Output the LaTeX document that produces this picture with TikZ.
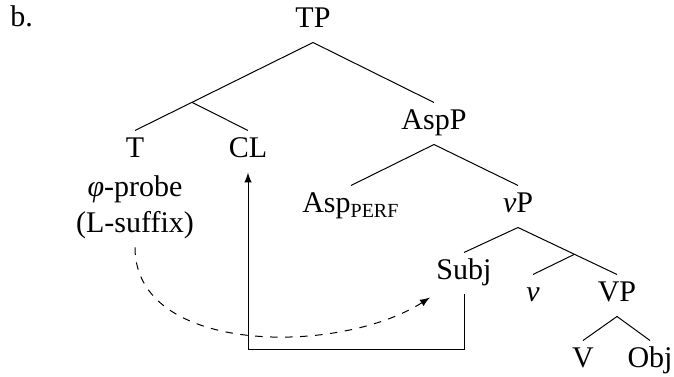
\documentclass[tikz,border=0pt]{standalone}
\usepackage{fontspec}
\setmainfont{Liberation Serif}
\usetikzlibrary{calc}
\tikzset{>=latex}
\tikzset{lab/.style={inner sep=0pt, text height=10.8pt, text depth=5.6pt, anchor=base, font=\fontsize{12pt}{14.4pt}\selectfont}}

\begin{document}
\begin{tikzpicture}[x=0.4pt, y=-0.4pt]
		\useasboundingbox (0,0) rectangle (674,377);
		\node[lab, anchor=base west] (ex) at (10,27) {b.};
		\node[lab] (TP) at (313,28) {TP};
		\node[lab] (T) at (135,158) {T};
		\node[lab] (CL) at (248,158) {CL};
		\node[lab] (probe) at (135,197) {{\itshape φ}-probe};
		\node[lab] (suffix) at (135,233) {(L-suffix)};
		\node[lab] (AspP) at (434,130) {AspP};
		\node[lab] (Asp) at (351,213) {Asp\textsubscript{PERF}};
		\node[lab] (vP) at (518,213) {\textit{v}P};
		\node[lab] (Subj) at (464,280) {Subj};
		\node[lab] (v) at (533,302) {\textit{v}};
		\node[lab] (VP) at (617,302) {VP};
		\node[lab] (V) at (583,368) {V};
		\node[lab] (Obj) at (650,368) {Obj};
		\coordinate (Tbar) at ($(TP.south)!.68!(T.north)$);
		\coordinate (vbar) at ($(vP.south)!.57!(VP.north)$);
		\coordinate (low) at (0,350);
		\draw (TP.south) -- (T.north);
		\draw (Tbar) -- (CL.north);
		\draw (TP.south) -- (AspP.north);
		\draw (AspP.south) -- (Asp.north);
		\draw (AspP.south) -- (vP.north);
		\draw (vP.south) -- (Subj.north);
		\draw (vP.south) -- (VP.north);
		\draw (vbar) -- (v.north);
		\draw (VP.south) -- (V.north);
		\draw (VP.south) -- (Obj.north);
		\draw[->] (Subj.south) -- (Subj.south |- low) -| (CL.south);
		\draw[dashed, ->] (suffix.south) .. controls +(0,108) and +(-90,58) .. ($(Subj.south west)+(-6,3)$);
	\end{tikzpicture}
\end{document}
